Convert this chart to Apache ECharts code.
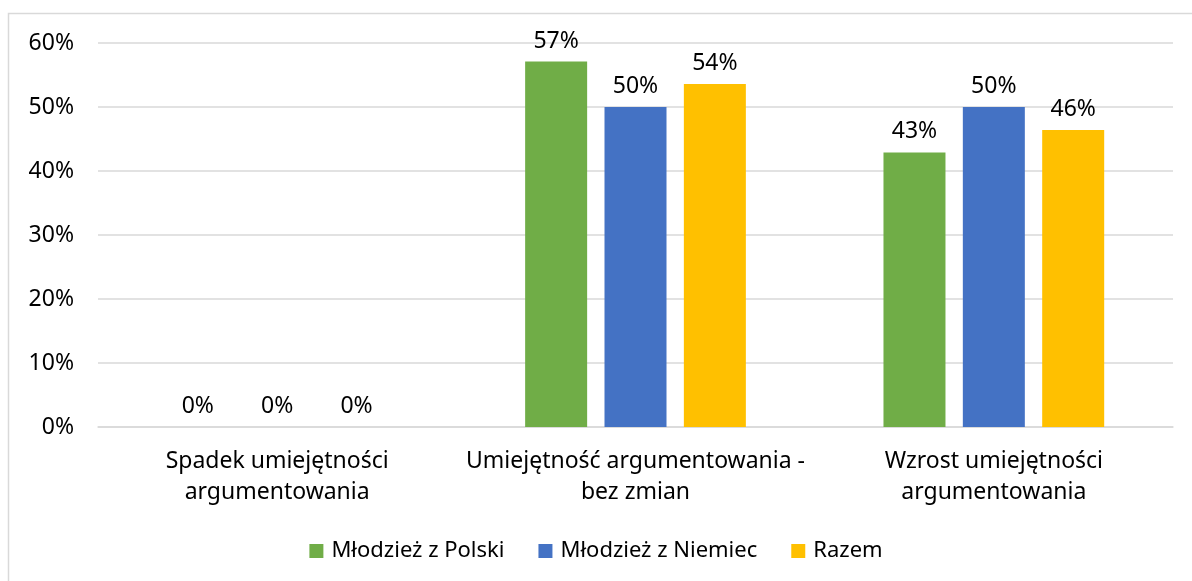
<!DOCTYPE html>
<html>
<head>
<meta charset="utf-8">
<script src="https://cdn.jsdelivr.net/npm/echarts@6/dist/echarts.min.js"></script>
<style>
  html, body { margin: 0; padding: 0; background: #fff; }
  #chart { width: 1192px; height: 581px; }
</style>
</head>
<body>
<div id="chart"></div>
<script>
// kategorie i dane (w %)
var categories = ['Spadek umiejętności\nargumentowania', 'Umiejętność argumentowania -\nbez zmian', 'Wzrost umiejętności\nargumentowania'];
var seriesNames = ['Młodzież z Polski', 'Młodzież z Niemiec', 'Razem'];
var polska = [0, 57.1, 42.9];
var niemcy = [0, 50, 50];
var razem = [0, 53.6, 46.4];

var font = 'Noto Sans';
var txt = '#000';

function barSeries(name, data, color) {
  return {
    name: name,
    type: 'bar',
    data: data,
    barWidth: 62,
    barGap: '28%',
    itemStyle: { color: color },
    label: {
      show: true,
      position: 'top',
      distance: 9,
      color: txt,
      fontFamily: font,
      fontSize: 23,
      formatter: function (p) { return Math.round(p.value) + '%'; }
    }
  };
}

var chart = echarts.init(document.getElementById('chart'));
chart.setOption({
  animation: false,
  textStyle: { fontFamily: font },
  graphic: [{
    type: 'rect',
    shape: { x: 8.5, y: 13.5, width: 1300, height: 700 },
    style: { fill: 'none', stroke: '#d9d9d9', lineWidth: 1.5 },
    silent: true
  }],
  grid: { left: 98, right: 19, top: 43, bottom: 154 },
  legend: {
    bottom: 14,
    left: 'center',
    icon: 'rect',
    itemWidth: 14,
    itemHeight: 14,
    itemGap: 34,
    itemStyle: { borderWidth: 0 },
    textStyle: { color: txt, fontFamily: font, fontSize: 22, padding: [0, 0, 0, 3] },
    data: seriesNames
  },
  xAxis: {
    type: 'category',
    data: categories,
    axisLine: { lineStyle: { color: '#d9d9d9', width: 1.5 } },
    axisTick: { show: false },
    axisLabel: { interval: 0, color: txt, fontFamily: font, fontSize: 23, lineHeight: 31, margin: 19 }
  },
  yAxis: {
    type: 'value',
    min: 0,
    max: 60,
    interval: 10,
    axisLine: { show: false },
    axisTick: { show: false },
    splitLine: { lineStyle: { color: '#d9d9d9', width: 1.5 } },
    axisLabel: { color: txt, fontFamily: font, fontSize: 23, margin: 24, formatter: '{value}%' }
  },
  series: [
    barSeries(seriesNames[0], polska, '#70ad47'),
    barSeries(seriesNames[1], niemcy, '#4472c4'),
    barSeries(seriesNames[2], razem, '#ffc000')
  ]
});
</script>
</body>
</html>
